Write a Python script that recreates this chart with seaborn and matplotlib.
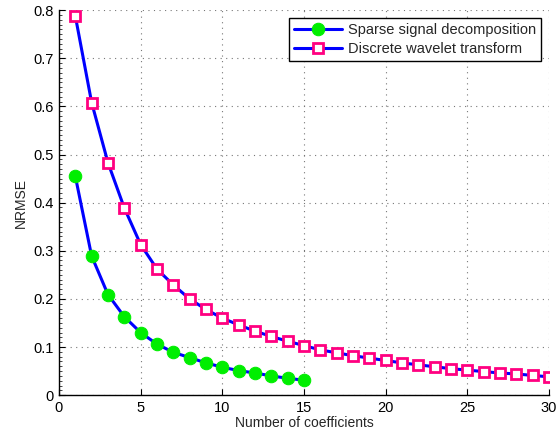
import numpy as np
import pandas as pd
import matplotlib
matplotlib.use("Agg")
import matplotlib.pyplot as plt
import seaborn as sns
from matplotlib.ticker import MultipleLocator

# values
ssd_k = list(range(1, 16))
ssd_nrmse = [0.455, 0.289, 0.209, 0.163, 0.130, 0.106, 0.089, 0.078, 0.067,
             0.058, 0.051, 0.046, 0.040, 0.035, 0.031]

dwt_k = list(range(1, 31))
dwt_nrmse = [0.788, 0.608, 0.483, 0.389, 0.313, 0.262, 0.229, 0.200, 0.178,
             0.160, 0.146, 0.133, 0.122, 0.112, 0.103, 0.094, 0.088, 0.082,
             0.077, 0.072, 0.067, 0.063, 0.059, 0.055, 0.052, 0.049, 0.046,
             0.044, 0.041, 0.038]

sns.set_style("white")
plt.rcParams['font.family'] = ['Liberation Sans', 'DejaVu Sans']

fig = plt.figure(figsize=(5.59, 4.41), dpi=100)
ax = fig.add_axes([0.1055, 0.104, 0.8765, 0.873])

sns.lineplot(x=ssd_k, y=ssd_nrmse, ax=ax, color='blue', linewidth=2.2,
             marker='o', markersize=9, markerfacecolor='#00ee00',
             markeredgecolor='#00ee00', label='Sparse signal decomposition')
sns.lineplot(x=dwt_k, y=dwt_nrmse, ax=ax, color='blue', linewidth=2.2,
             marker='s', markersize=7.2, markerfacecolor='white',
             markeredgecolor='#ff0080', markeredgewidth=2.0,
             label='Discrete wavelet transform')

ax.set_xlim(0, 30)
ax.set_ylim(0, 0.8)
ax.xaxis.set_major_locator(MultipleLocator(5))
ax.yaxis.set_minor_locator(MultipleLocator(0.01))
ax.set_yticks([0, 0.1, 0.2, 0.3, 0.4, 0.5, 0.6, 0.7, 0.8])
ax.set_yticklabels(['0', '0.1', '0.2', '0.3', '0.4', '0.5', '0.6', '0.7', '0.8'])
ax.tick_params(axis='both', which='major', direction='in', length=4,
               labelsize=10.5, colors='black', pad=4)
ax.tick_params(axis='y', which='minor', direction='in', length=2, left=True)
ax.tick_params(axis='x', which='major', bottom=True)
ax.tick_params(axis='y', which='major', left=True)

ax.grid(True, which='major', linestyle=(0, (1, 4)), color='#777777', linewidth=0.8)
for side in ['top', 'right']:
    ax.spines[side].set_visible(False)
for side in ['left', 'bottom']:
    ax.spines[side].set_color('black')
    ax.spines[side].set_linewidth(1.0)

ax.set_xlabel('Number of coefficients', fontsize=10, labelpad=1)
ax.set_ylabel('NRMSE', fontsize=10, labelpad=4)

leg = ax.legend(loc='upper right', fontsize=10.5, frameon=True, fancybox=False,
                borderpad=0.35, handlelength=3.3, handletextpad=0.4,
                labelspacing=0.3, borderaxespad=0.55)
leg.get_frame().set_edgecolor('black')
leg.get_frame().set_linewidth(1.0)
leg.get_frame().set_alpha(1)

fig.savefig('out.png', dpi=100)
